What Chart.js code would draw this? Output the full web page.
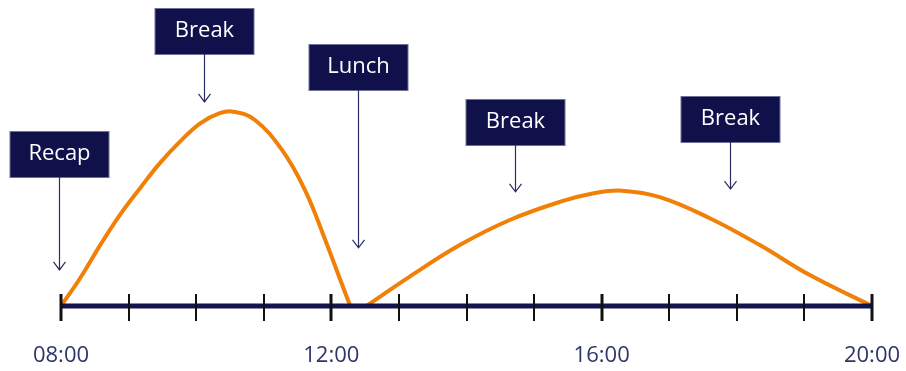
<!DOCTYPE html>
<html>
<head>
<meta charset="utf-8">
<script src="https://cdn.jsdelivr.net/npm/chart.js@4/dist/chart.umd.min.js"></script>
<style>
  html, body { margin: 0; padding: 0; background: #fff; }
  #wrap { width: 906px; height: 371px; }
</style>
</head>
<body>
<div id="wrap"><canvas id="dayChart"></canvas></div>
<script>
'use strict';

// attention over the day (hour of day, level 0-100)
const morningHours = [8, 8.28, 8.58, 8.87, 9.17, 9.46, 9.76, 10.06, 10.35, 10.55, 10.87, 11.27, 11.61, 11.91, 12.15, 12.28];
const morningLevel = [0, 9, 19.9, 29.7, 38.5, 46.6, 53.7, 59.7, 63, 63.5, 60.8, 51, 37.9, 21.6, 7.5, 0];
const afternoonHours = [12.52, 13.16, 13.9, 14.64, 15.38, 15.9, 16.3, 16.86, 17.6, 18.34, 19.08, 20];
const afternoonLevel = [0, 9.6, 19.9, 28.1, 34, 36.9, 37.7, 35.6, 28.7, 19.9, 10.1, 0];

// axis
const axisHours = [8, 9, 10, 11, 12, 13, 14, 15, 16, 17, 18, 19, 20];
const tickHours = [8, 12, 16, 20];
const tickLabels = ['08:00', '12:00', '16:00', '20:00'];

// callouts: text, hour the arrow points at, box top level, arrow tip level
const noteLabels = ['Recap', 'Break', 'Lunch', 'Break', 'Break'];
const noteHours = [7.97, 10.12, 12.39, 14.72, 17.9];
const noteBoxTop = [57.2, 97.4, 85.6, 67.6, 68.6];
const noteArrowTip = [11.8, 66.7, 19, 37.3, 38.2];

const NAVY = '#121450';
const ORANGE = '#f08008';

let toPoints = (xs, ys) => xs.map((x, i) => ({ x: x, y: ys[i] }));

// axis line with hour ticks, drawn over the curve
const timeAxis = {
  id: 'timeAxis',
  afterDatasetsDraw(chart) {
    let ctx = chart.ctx;
    let xs = chart.scales.x;
    let y0 = chart.scales.y.getPixelForValue(0);
    ctx.save();
    ctx.strokeStyle = NAVY;
    ctx.lineWidth = 5;
    ctx.beginPath();
    ctx.moveTo(xs.getPixelForValue(axisHours[0]), y0);
    ctx.lineTo(xs.getPixelForValue(axisHours[axisHours.length - 1]), y0);
    ctx.stroke();
    ctx.strokeStyle = '#111111';
    axisHours.forEach(function(h) {
      let px = Math.round(xs.getPixelForValue(h));
      ctx.lineWidth = tickHours.includes(h) ? 3 : 2;
      ctx.beginPath();
      ctx.moveTo(px, y0 - 12);
      ctx.lineTo(px, y0 + 15);
      ctx.stroke();
    });
    ctx.restore();
  }
};

// labelled boxes with arrows
const callouts = {
  id: 'callouts',
  afterDraw(chart) {
    let ctx = chart.ctx;
    let xs = chart.scales.x;
    let ys = chart.scales.y;
    ctx.save();
    noteLabels.forEach(function(text, i) {
      let cx = Math.round(xs.getPixelForValue(noteHours[i])) + 0.5;
      let top = Math.round(ys.getPixelForValue(noteBoxTop[i]));
      let tip = ys.getPixelForValue(noteArrowTip[i]);
      let w = 99, h = 46;
      ctx.fillStyle = '#10114a';
      ctx.fillRect(cx - w / 2, top, w, h);
      ctx.strokeStyle = '#6f7296';
      ctx.lineWidth = 1;
      ctx.strokeRect(cx - w / 2, top + 0.5, w, h);
      ctx.fillStyle = '#ffffff';
      ctx.font = '22px "Open Sans", sans-serif';
      ctx.textAlign = 'center';
      ctx.textBaseline = 'middle';
      ctx.fillText(text, cx, top + h / 2);
      // arrow
      ctx.strokeStyle = '#2a2d66';
      ctx.lineWidth = 1.2;
      ctx.beginPath();
      ctx.moveTo(cx, top + h);
      ctx.lineTo(cx, tip);
      ctx.moveTo(cx - 6, tip - 8);
      ctx.lineTo(cx, tip);
      ctx.lineTo(cx + 6, tip - 8);
      ctx.stroke();
    });
    ctx.restore();
  }
};

let lineStyle = {
  borderColor: ORANGE,
  borderWidth: 4,
  pointRadius: 0,
  fill: false,
  tension: 0.4
};

let ctx = document.getElementById('dayChart').getContext('2d');
/* eslint-disable-next-line no-unused-vars */
let dayChart = new Chart(ctx, {
  type: 'line',
  data: {
    datasets: [
      Object.assign({ label: 'Morning', data: toPoints(morningHours, morningLevel) }, lineStyle),
      Object.assign({ label: 'Afternoon', data: toPoints(afternoonHours, afternoonLevel) }, lineStyle)
    ]
  },
  options: {
    responsive: true,
    maintainAspectRatio: false,
    animation: false,
    layout: { padding: { left: 61, right: 34, top: 0, bottom: 0 } },
    plugins: { legend: { display: false }, tooltip: { enabled: false } },
    scales: {
      x: {
        type: 'linear',
        min: 8,
        max: 20,
        grid: { display: false, drawTicks: false },
        border: { display: false },
        afterBuildTicks: function(scale) {
          scale.ticks = tickHours.map(h => ({ value: h }));
        },
        afterFit: function(scale) {
          scale.paddingLeft = 0;
          scale.paddingRight = 0;
          scale.height = 65;
        },
        ticks: {
          autoSkip: false,
          maxRotation: 0,
          padding: 37,
          color: '#2e3568',
          font: { family: '"Open Sans", sans-serif', size: 22 },
          callback: function(value) {
            return tickLabels[tickHours.indexOf(value)];
          }
        }
      },
      y: {
        display: false,
        min: 0,
        max: 100
      }
    }
  },
  plugins: [timeAxis, callouts]
});
</script>
</body>
</html>
